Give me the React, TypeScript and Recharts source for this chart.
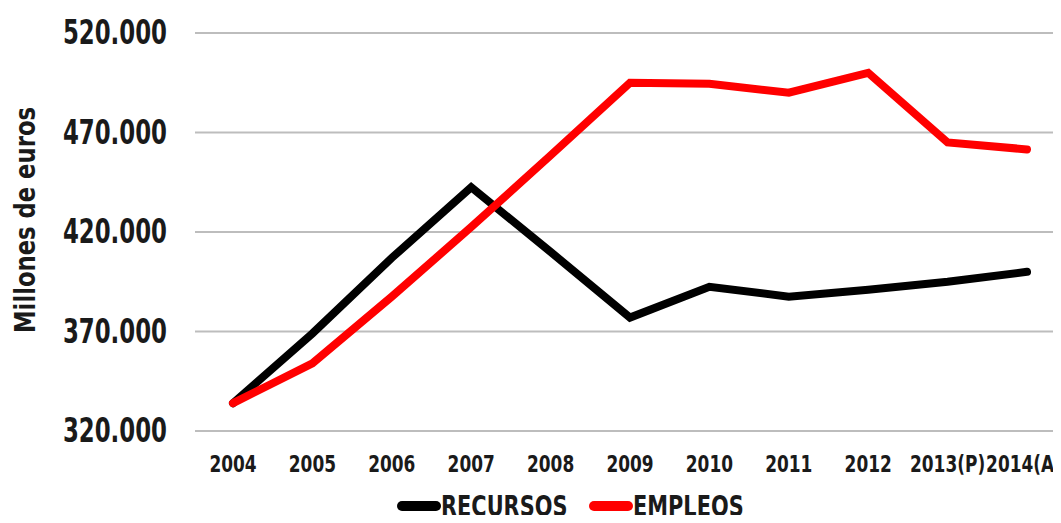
import { LineChart, Line, XAxis, YAxis, CartesianGrid, Legend } from 'recharts';

const years = ['2004', '2005', '2006', '2007', '2008', '2009', '2010', '2011', '2012', '2013(P)', '2014(A)'];
const recursos = [334000, 369000, 407000, 442500, 410000, 377000, 392500, 387500, 391000, 395000, 400000];
const empleos = [334000, 354000, 387500, 422500, 458500, 495000, 494500, 490000, 500000, 465000, 461500];
const yTicks = [320000, 370000, 420000, 470000, 520000];

const data = years.map((year, i) => ({ year, recursos: recursos[i], empleos: empleos[i] }));

const W = 1061;
const H = 523;

// no narrow fonts installed, so squeeze DejaVu Condensed horizontally
const FONT = "'DejaVu Sans Condensed', 'DejaVu Sans', sans-serif";
const INK = '#1a1a1a';

const fmt = (v: number) => v.toLocaleString('de-DE');

const squeeze = (x: number, y: number, sx: number) =>
  `translate(${x} ${y}) scale(${sx} 1) translate(${-x} ${-y})`;

function YTick({ x, y, payload }: any) {
  return (
    <text
      x={x}
      y={y}
      textAnchor="end"
      dominantBaseline="central"
      transform={squeeze(x, y, 0.77)}
      fill={INK}
      fontFamily={FONT}
      fontWeight="bold"
      fontSize={33}
    >
      {fmt(payload.value)}
    </text>
  );
}

function XTick({ x, y, payload }: any) {
  // keep the last label inside the picture, like the original does
  const cx = Math.min(x, W - 37);
  return (
    <text
      x={cx}
      y={y}
      dy={17}
      textAnchor="middle"
      transform={squeeze(cx, y, 0.82)}
      fill={INK}
      fontFamily={FONT}
      fontWeight="bold"
      fontSize={23}
    >
      {payload.value}
    </text>
  );
}

function YTitle({ viewBox }: any) {
  const cx = 25;
  const cy = viewBox.y + viewBox.height / 2 - 12;
  return (
    <text
      x={cx}
      y={cy}
      transform={`rotate(-90 ${cx} ${cy})`}
      textAnchor="middle"
      dominantBaseline="central"
      textLength={226}
      lengthAdjust="spacingAndGlyphs"
      fill={INK}
      fontFamily={FONT}
      fontWeight="bold"
      fontSize={29}
    >
      Millones de euros
    </text>
  );
}

function LegendContent() {
  const items = [
    { name: 'RECURSOS', color: '#000000', w: 192 },
    { name: 'EMPLEOS', color: '#ff0000', w: 160 },
  ];
  return (
    <div style={{ display: 'flex', alignItems: 'center', height: 24, fontFamily: FONT, fontWeight: 'bold', fontSize: 29, color: INK }}>
      {items.map((it) => (
        <div key={it.name} style={{ display: 'flex', alignItems: 'center', width: it.w, whiteSpace: 'nowrap' }}>
          <span style={{ display: 'inline-block', width: 44, height: 10, borderRadius: 5, background: it.color, flex: 'none' }} />
          <span style={{ display: 'inline-block', lineHeight: '24px', transform: 'scaleX(0.8)', transformOrigin: 'left center' }}>
            {it.name}
          </span>
        </div>
      ))}
    </div>
  );
}

export default function App() {
  return (
    <div style={{ margin: -8, width: W, height: H, background: '#fff', overflow: 'hidden' }}>
      <LineChart width={W} height={H} data={data} margin={{ top: 33, right: 0, bottom: 0, left: 0 }}>
        <CartesianGrid horizontal vertical={false} stroke="#bdbdbd" strokeWidth={2} />
        <XAxis
          dataKey="year"
          axisLine={false}
          tickLine={false}
          tickSize={0}
          tickMargin={24}
          height={68}
          interval={0}
          padding={{ left: 38, right: 34 }}
          tick={<XTick />}
        />
        <YAxis
          domain={[320000, 520000]}
          ticks={yTicks}
          axisLine={false}
          tickLine={false}
          tickSize={0}
          tickMargin={28}
          width={195}
          tick={<YTick />}
          label={<YTitle />}
        />
        <Legend
          verticalAlign="bottom"
          align="left"
          content={<LegendContent />}
          wrapperStyle={{ left: 397, top: 494, bottom: 'auto', width: 400, height: 24 }}
        />
        <Line
          type="linear"
          dataKey="recursos"
          name="RECURSOS"
          stroke="#000000"
          strokeWidth={8}
          strokeLinecap="round"
          dot={false}
          isAnimationActive={false}
        />
        <Line
          type="linear"
          dataKey="empleos"
          name="EMPLEOS"
          stroke="#ff0000"
          strokeWidth={8}
          strokeLinecap="round"
          dot={false}
          isAnimationActive={false}
        />
      </LineChart>
    </div>
  );
}
